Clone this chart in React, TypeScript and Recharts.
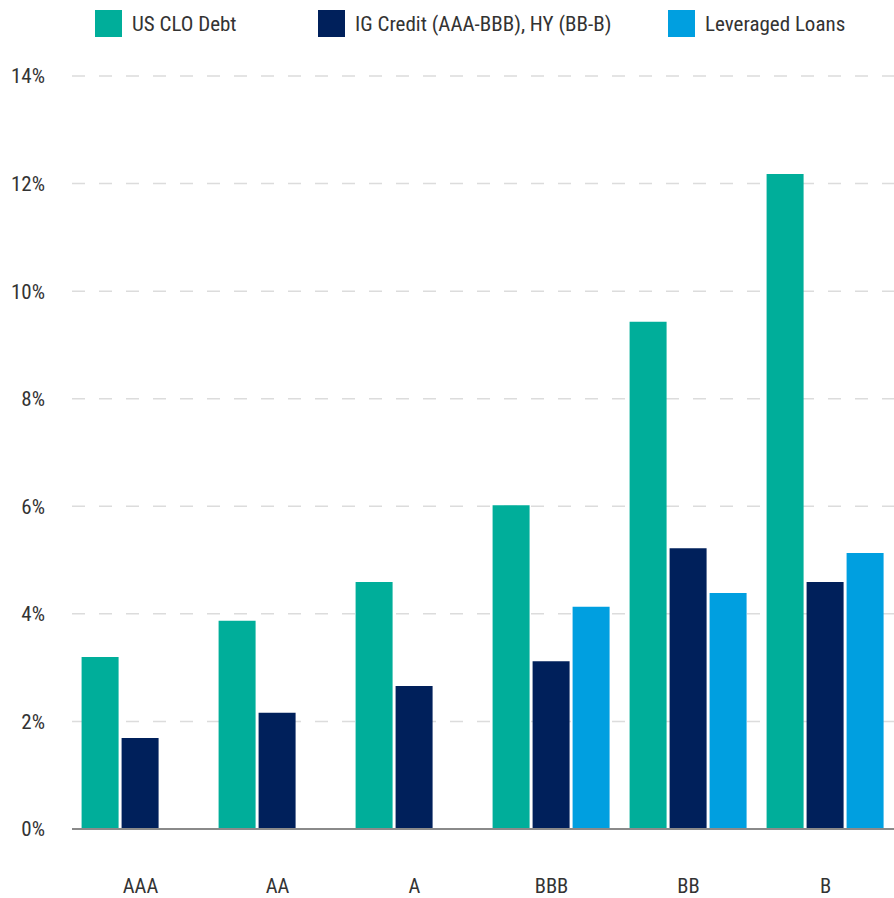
import { BarChart, Bar, XAxis, YAxis, CartesianGrid, Legend } from 'recharts';

const ratings = ['AAA', 'AA', 'A', 'BBB', 'BB', 'B'];
const usCloDebt = [3.2, 3.87, 4.59, 6.02, 9.43, 12.18];
const igHyCredit = [1.69, 2.16, 2.66, 3.12, 5.22, 4.59];
const leveragedLoans = [null, null, null, 4.13, 4.39, 5.13];
const yTicks = [0, 2, 4, 6, 8, 10, 12, 14];

const data = ratings.map((rating, i) => ({
  rating,
  clo: usCloDebt[i],
  credit: igHyCredit[i],
  loans: leveragedLoans[i],
}));

const FONT = '"Roboto Condensed", Roboto, sans-serif';

const legendItems = [
  { label: 'US CLO Debt', color: '#00ae9a', width: 223 },
  { label: 'IG Credit (AAA-BBB), HY (BB-B)', color: '#00205b', width: 350 },
  { label: 'Leveraged Loans', color: '#009fe0', width: 200 },
];

function ChartLegend() {
  return (
    <div style={{ display: 'flex', alignItems: 'center', paddingLeft: 95, height: 47 }}>
      {legendItems.map((item) => (
        <div key={item.label} style={{ display: 'flex', alignItems: 'center', width: item.width, whiteSpace: 'nowrap' }}>
          <div style={{ width: 27, height: 27, background: item.color, marginRight: 10 }}></div>
          <span style={{ fontFamily: FONT, fontSize: 21, color: '#333' }}>{item.label}</span>
        </div>
      ))}
    </div>
  );
}

export default function App() {
  return (
    <div style={{ position: 'absolute', left: 0, top: 0, width: 894, height: 898, background: '#fff' }}>
      <BarChart
        width={894}
        height={898}
        data={data}
        margin={{ top: 0, right: 0, left: 0, bottom: 0 }}
        barCategoryGap="7%"
        barGap={3}
      >
        <Legend
          verticalAlign="top"
          align="left"
          height={76}
          wrapperStyle={{ width: 894 }}
          content={() => <ChartLegend />}
        />
        <CartesianGrid vertical={false} stroke="#dcdcdc" strokeWidth={1.5} strokeDasharray="13 14" />
        <XAxis
          dataKey="rating"
          height={69}
          axisLine={{ stroke: '#8a8a8a', strokeWidth: 2 }}
          tickLine={false}
          tickMargin={43}
          tick={{ fontSize: 20.5, fill: '#333', fontFamily: FONT }}
        />
        <YAxis
          width={72}
          domain={[0, 14]}
          ticks={yTicks}
          axisLine={false}
          tickLine={false}
          tickMargin={21}
          tickFormatter={(v) => `${v}%`}
          tick={{ fontSize: 21, fill: '#333', fontFamily: FONT }}
        />
        <Bar dataKey="clo" name="US CLO Debt" fill="#00ae9a" isAnimationActive={false} />
        <Bar dataKey="credit" name="IG Credit (AAA-BBB), HY (BB-B)" fill="#00205b" isAnimationActive={false} />
        <Bar dataKey="loans" name="Leveraged Loans" fill="#009fe0" isAnimationActive={false} />
      </BarChart>
    </div>
  );
}
